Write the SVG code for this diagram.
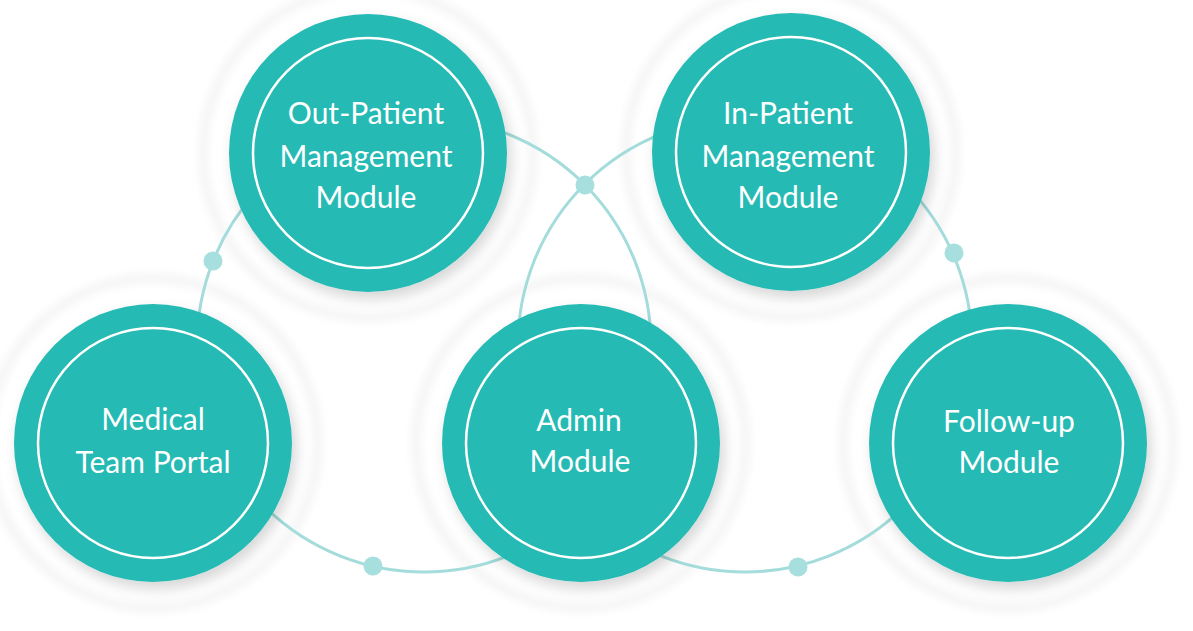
<svg xmlns="http://www.w3.org/2000/svg" width="1193" height="631" viewBox="0 0 1193 631">
  <defs>
    <filter id="shadow" x="-30%" y="-30%" width="160%" height="160%">
      <feDropShadow dx="4" dy="7" stdDeviation="7" flood-color="#000000" flood-opacity="0.16"/>
    </filter>
    <filter id="halo" x="-50%" y="-50%" width="200%" height="200%">
      <feGaussianBlur stdDeviation="4"/>
    </filter>
  </defs>
  <style>
    .halo { fill: none; stroke: #f4f4f4; stroke-width: 9; filter: url(#halo); }
    .disc { fill: #28bab4; filter: url(#shadow); }
    .ring { fill: none; stroke: #ffffff; stroke-width: 2.5; }
    .conn { fill: none; stroke: #a3dcdb; stroke-width: 3; }
    .dot { fill: #a6dfde; }
    .label { font-family: Lato, "Open Sans", "Liberation Sans", sans-serif; font-size: 30px; fill: #ffffff; text-anchor: middle; }
  </style>
  <rect width="1193" height="631" fill="#ffffff"/>

  <g id="halos">
    <circle class="halo" cx="153" cy="443" r="165"/>
    <circle class="halo" cx="368" cy="153" r="165"/>
    <circle class="halo" cx="791" cy="152" r="165"/>
    <circle class="halo" cx="581" cy="443" r="165"/>
    <circle class="halo" cx="1008" cy="443" r="165"/>
  </g>

  <g id="connectors">
    <circle class="conn" cx="424" cy="345" r="227"/>
    <circle class="conn" cx="745" cy="345" r="227"/>
    <circle class="dot" cx="213" cy="261" r="9.5"/>
    <circle class="dot" cx="585" cy="185" r="9.5"/>
    <circle class="dot" cx="954" cy="253" r="9.5"/>
    <circle class="dot" cx="373" cy="566" r="9.5"/>
    <circle class="dot" cx="798" cy="567" r="9.5"/>
  </g>

  <g id="node-medical">
    <circle class="disc" cx="153" cy="443" r="139"/>
    <circle class="ring" cx="153" cy="443" r="115"/>
    <text class="label" x="153" y="430">Medical</text>
    <text class="label" x="153" y="473">Team Portal</text>
  </g>

  <g id="node-outpatient">
    <circle class="disc" cx="368" cy="153" r="139"/>
    <circle class="ring" cx="368" cy="153" r="115"/>
    <text class="label" x="366" y="124">Out-Patient</text>
    <text class="label" x="366" y="167">Management</text>
    <text class="label" x="366" y="208">Module</text>
  </g>

  <g id="node-inpatient">
    <circle class="disc" cx="791" cy="152" r="139"/>
    <circle class="ring" cx="791" cy="152" r="115"/>
    <text class="label" x="788" y="124">In-Patient</text>
    <text class="label" x="788" y="167">Management</text>
    <text class="label" x="788" y="208">Module</text>
  </g>

  <g id="node-admin">
    <circle class="disc" cx="581" cy="443" r="139"/>
    <circle class="ring" cx="581" cy="443" r="115"/>
    <text class="label" x="579" y="431">Admin</text>
    <text class="label" x="580" y="472">Module</text>
  </g>

  <g id="node-followup">
    <circle class="disc" cx="1008" cy="443" r="139"/>
    <circle class="ring" cx="1008" cy="443" r="115"/>
    <text class="label" x="1009" y="432">Follow-up</text>
    <text class="label" x="1009" y="473">Module</text>
  </g>
</svg>
